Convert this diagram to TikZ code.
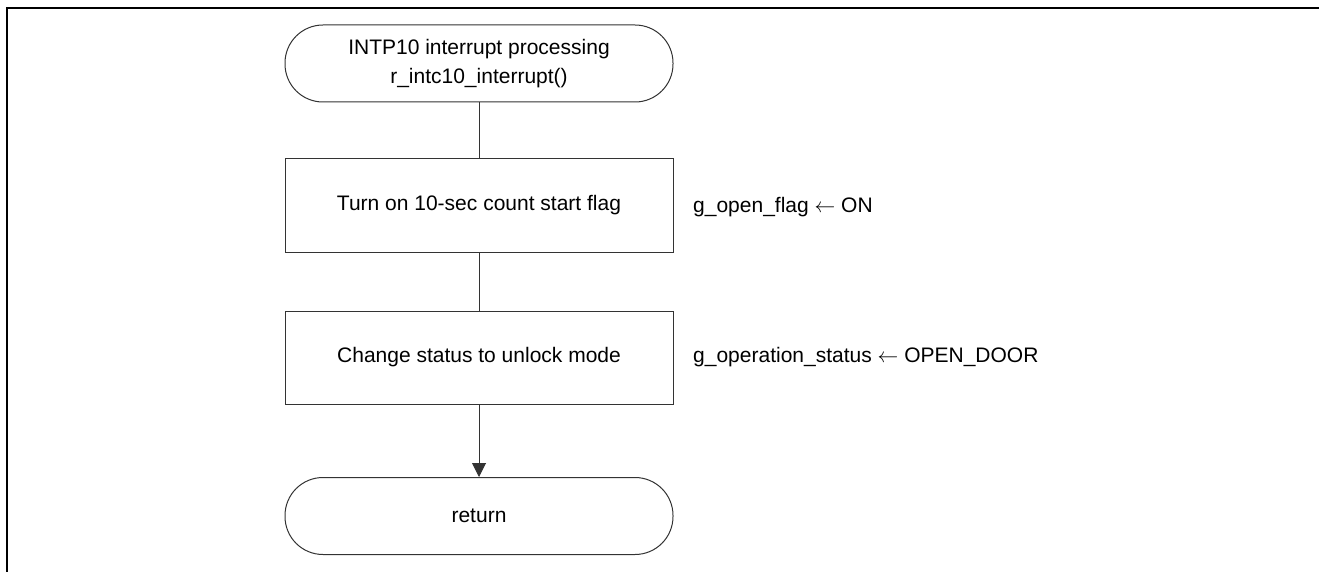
\documentclass[tikz,border=0pt]{standalone}
\usepackage{fontspec}
\setmainfont{Liberation Sans}
\usetikzlibrary{arrows.meta}
\begin{document}
\begin{tikzpicture}[x=1pt,y=-1pt,
  every node/.style={font=\fontsize{21}{29}\selectfont, inner sep=0pt},
  proc/.style={draw=black!80, line width=1pt, minimum width=388pt, minimum height=93pt, align=center},
  term/.style={draw=black!80, line width=1pt, rounded corners=38pt, minimum width=388pt, minimum height=77pt, align=center},
  conn/.style={draw=black!80, line width=1pt},
  note/.style={anchor=west}
]
\useasboundingbox (0,0) rectangle (1319,572);
\draw[line width=2.3pt] (1319,7.8) -- (7.3,7.8) -- (7.3,572);
\node[term] (start) at (479,63.5) {INTP10 interrupt processing\\r\_intc10\_interrupt()};
\node[proc] (s1) at (479,205.5) {Turn on 10-sec count start flag};
\node[proc] (s2) at (479,357.5) {Change status to unlock mode};
\node[term] (ret) at (479,516) {return};
\node[note] (n1) at (693,207) {g\_open\_flag $\leftarrow$ ON};
\node[note] (n2) at (693,357.5) {g\_operation\_status $\leftarrow$ OPEN\_DOOR};
\draw[conn] (start) -- (s1);
\draw[conn] (s1) -- (s2);
\draw[conn, -{Triangle[width=14pt,length=14pt]}] (s2) -- (ret);
\end{tikzpicture}
\end{document}
